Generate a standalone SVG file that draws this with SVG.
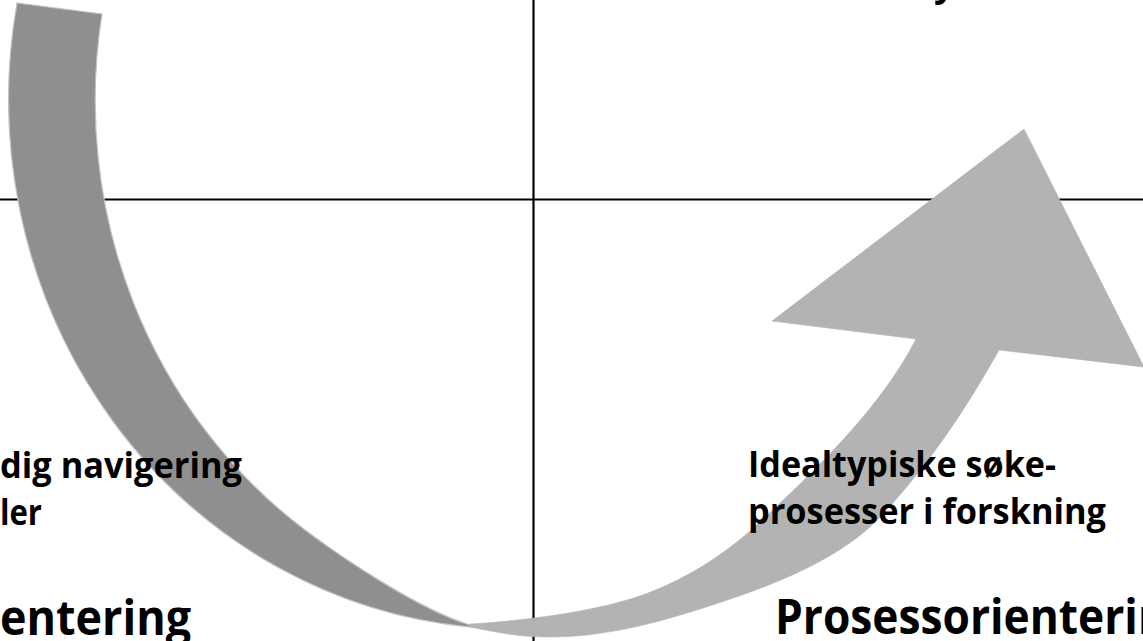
<svg xmlns="http://www.w3.org/2000/svg" width="1143" height="641" viewBox="0 0 1143 641">
  <style>
    .axis { stroke: #000000; stroke-width: 2.2; fill: none; }
    .back { fill: #8f8f8f; stroke: #c2c2c2; stroke-width: 1.2; }
    .front { fill: #b3b3b3; stroke: #b3b3b3; stroke-width: 0.6; }
    .lbl { font-family: "Open Sans", Lato, "Liberation Sans", sans-serif; font-weight: bold; fill: #000000; }
    .small { font-size: 36.5px; }
    .big { font-size: 48px; }
  </style>
  <rect x="0" y="0" width="1143" height="641" fill="#ffffff"/>
  <g id="connectors">
    <line class="axis" x1="0" y1="199.5" x2="1143" y2="199.5"/>
    <line class="axis" x1="533.5" y1="0" x2="533.5" y2="641"/>
  </g>
  <g id="curved-arrow">
    <path class="back" d="M17,3 L102,14 A507,530 0 0,0 305,530 C345,560 420,610 470,625 L470,627 A507,530 0 0,1 17,3 Z"/>
    <path class="front" d="M470,624 C510,622 580,614 627,600 C670,588 720,560 760,522 C810,475 880,410 916,339 L772,321 L1024,129 L1144,367 L999,350 C960,420 920,475 880,517 C840,560 770,587 700,609 C650,625 600,637 550,637 C520,637 500,633 470,627 Z"/>
  </g>
  <g id="label-top-right">
    <text class="lbl small" x="934" y="-4">y</text>
  </g>
  <g id="label-left">
    <text class="lbl small" x="0" y="478" textLength="242" lengthAdjust="spacingAndGlyphs">dig navigering</text>
    <text class="lbl small" x="0" y="525" textLength="42" lengthAdjust="spacingAndGlyphs">ler</text>
  </g>
  <g id="label-left-heading">
    <text class="lbl big" x="0" y="635" textLength="191" lengthAdjust="spacingAndGlyphs">entering</text>
  </g>
  <g id="label-right">
    <text class="lbl small" x="748" y="477" textLength="308" lengthAdjust="spacingAndGlyphs">Idealtypiske søke-</text>
    <text class="lbl small" x="748" y="524" textLength="358" lengthAdjust="spacingAndGlyphs">prosesser i forskning</text>
  </g>
  <g id="label-right-heading">
    <text class="lbl big" x="775" y="634" textLength="392" lengthAdjust="spacingAndGlyphs">Prosessorienterin</text>
  </g>
</svg>
